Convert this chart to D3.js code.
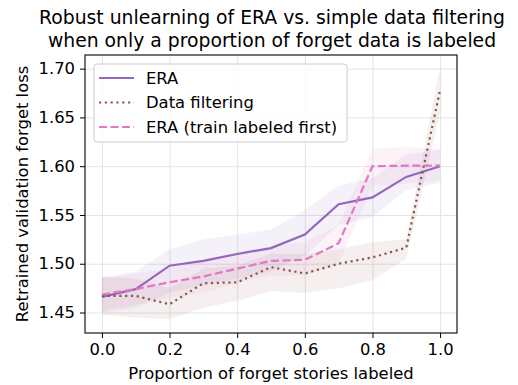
<!DOCTYPE html>
<html>
<head>
<meta charset="utf-8">
<script src="https://cdn.jsdelivr.net/npm/d3@7"></script>
<style>
  body { margin: 0; background: #fff; }
  text { font-family: "DejaVu Sans", sans-serif; fill: #000; }
  .axis path, .axis line { stroke: #000; }
  .axis text { font-size: 16.4px; }
  .grid line { stroke: #e4e4e4; stroke-width: 1; }
  .grid path { display: none; }
</style>
</head>
<body>
<div id="chart"></div>
<script>
// proportion of forget stories labeled
const proportions = [0.0, 0.1, 0.2, 0.3, 0.4, 0.5, 0.6, 0.7, 0.8, 0.9, 1.0];

// ERA
const eraMean = [1.466, 1.474, 1.498, 1.503, 1.510, 1.516, 1.530, 1.561, 1.568, 1.589, 1.600];
const eraLo   = [1.450, 1.455, 1.470, 1.478, 1.485, 1.492, 1.508, 1.540, 1.548, 1.575, 1.583];
const eraHi   = [1.486, 1.492, 1.515, 1.525, 1.530, 1.535, 1.555, 1.580, 1.588, 1.612, 1.617];

// Data filtering
const filtMean = [1.467, 1.467, 1.4585, 1.480, 1.481, 1.4965, 1.490, 1.500, 1.5065, 1.5165, 1.678];
const filtLo   = [1.448, 1.445, 1.443, 1.455, 1.462, 1.472, 1.470, 1.475, 1.483, 1.505, 1.655];
const filtHi   = [1.487, 1.485, 1.475, 1.495, 1.498, 1.510, 1.510, 1.515, 1.522, 1.525, 1.702];

// ERA (train labeled first)
const firstMean = [1.4685, 1.474, 1.481, 1.487, 1.495, 1.503, 1.504, 1.521, 1.600, 1.6005, 1.6005];
const firstLo   = [1.452, 1.458, 1.465, 1.470, 1.480, 1.488, 1.488, 1.500, 1.580, 1.582, 1.585];
const firstHi   = [1.485, 1.490, 1.495, 1.503, 1.512, 1.518, 1.522, 1.540, 1.618, 1.620, 1.617];

const xTicks = [0.0, 0.2, 0.4, 0.6, 0.8, 1.0];
const yTicks = [1.45, 1.50, 1.55, 1.60, 1.65, 1.70];

const series = [
  {name: "ERA", mean: eraMean, lo: eraLo, hi: eraHi, color: "#9467bd", dash: null},
  {name: "Data filtering", mean: filtMean, lo: filtLo, hi: filtHi, color: "#8c564b", dash: "2.2,3.6"},
  {name: "ERA (train labeled first)", mean: firstMean, lo: firstLo, hi: firstHi, color: "#e377c2", dash: "8,3.5"}
];

// dimensions
const margin = {top: 55, right: 61, bottom: 52, left: 85};
const width = 518 - margin.left - margin.right;
const height = 385 - margin.top - margin.bottom;

const svg = d3.select("#chart")
  .append("svg")
  .attr("width", 518)
  .attr("height", 385);

const g = svg.append("g")
  .attr("transform", "translate(" + margin.left + "," + margin.top + ")");

// scales
const xScale = d3.scaleLinear().domain([-0.05, 1.05]).range([0, width]);
const yScale = d3.scaleLinear().domain([1.429, 1.714]).range([height, 0]);

// grid
g.append("g")
  .attr("class", "grid")
  .attr("transform", "translate(0," + height + ")")
  .call(d3.axisBottom(xScale).tickValues(xTicks).tickSize(-height).tickFormat(""));
g.append("g")
  .attr("class", "grid")
  .call(d3.axisLeft(yScale).tickValues(yTicks).tickSize(-width).tickFormat(""));

// bands
const area = d3.area()
  .x((d, i) => xScale(proportions[i]))
  .y0(d => yScale(d[0]))
  .y1(d => yScale(d[1]));

series.forEach(s => {
  g.append("path")
    .datum(s.lo.map((v, i) => [v, s.hi[i]]))
    .attr("d", area)
    .attr("fill", s.color)
    .attr("fill-opacity", 0.09);
});

// lines
const line = d3.line()
  .x((d, i) => xScale(proportions[i]))
  .y(d => yScale(d));

series.forEach(s => {
  g.append("path")
    .datum(s.mean)
    .attr("d", line)
    .attr("fill", "none")
    .attr("stroke", s.color)
    .attr("stroke-width", 2.2)
    .attr("stroke-dasharray", s.dash);
});

// axes
g.append("g")
  .attr("class", "axis")
  .attr("transform", "translate(0," + height + ")")
  .call(d3.axisBottom(xScale).tickValues(xTicks).tickSize(5).tickPadding(5).tickFormat(d3.format(".1f")))
  .call(a => a.select(".domain").remove());

g.append("g")
  .attr("class", "axis")
  .call(d3.axisLeft(yScale).tickValues(yTicks).tickSize(5).tickPadding(5).tickFormat(d3.format(".2f")))
  .call(a => a.select(".domain").remove());

// frame
g.append("rect")
  .attr("width", width)
  .attr("height", height)
  .attr("fill", "none")
  .attr("stroke", "#000")
  .attr("stroke-width", 1.1);

// axis labels
svg.append("text")
  .attr("x", margin.left + width / 2)
  .attr("y", 379)
  .attr("text-anchor", "middle")
  .style("font-size", "16.4px")
  .text("Proportion of forget stories labeled");

svg.append("text")
  .attr("transform", "rotate(-90)")
  .attr("x", -(margin.top + height / 2))
  .attr("y", 28)
  .attr("text-anchor", "middle")
  .style("font-size", "16.4px")
  .text("Retrained validation forget loss");

// title
const title = svg.append("text")
  .attr("text-anchor", "middle")
  .style("font-size", "18.8px");
title.append("tspan").attr("x", 272).attr("y", 24)
  .text("Robust unlearning of ERA vs. simple data filtering");
title.append("tspan").attr("x", 272).attr("y", 47)
  .text("when only a proportion of forget data is labeled");

// legend
const legend = g.append("g").attr("transform", "translate(9,9)");
legend.append("rect")
  .attr("width", 253)
  .attr("height", 78)
  .attr("rx", 3)
  .attr("fill", "#fff")
  .attr("fill-opacity", 0.8)
  .attr("stroke", "#cccccc");

series.forEach((s, i) => {
  const yRow = 14 + i * 24.5;
  legend.append("line")
    .attr("x1", 5).attr("x2", 40)
    .attr("y1", yRow).attr("y2", yRow)
    .attr("stroke", s.color)
    .attr("stroke-width", 2.2)
    .attr("stroke-dasharray", s.dash);
  legend.append("text")
    .attr("x", 52)
    .attr("y", yRow)
    .attr("dy", "0.35em")
    .style("font-size", "16.4px")
    .text(s.name);
});
</script>
</body>
</html>
